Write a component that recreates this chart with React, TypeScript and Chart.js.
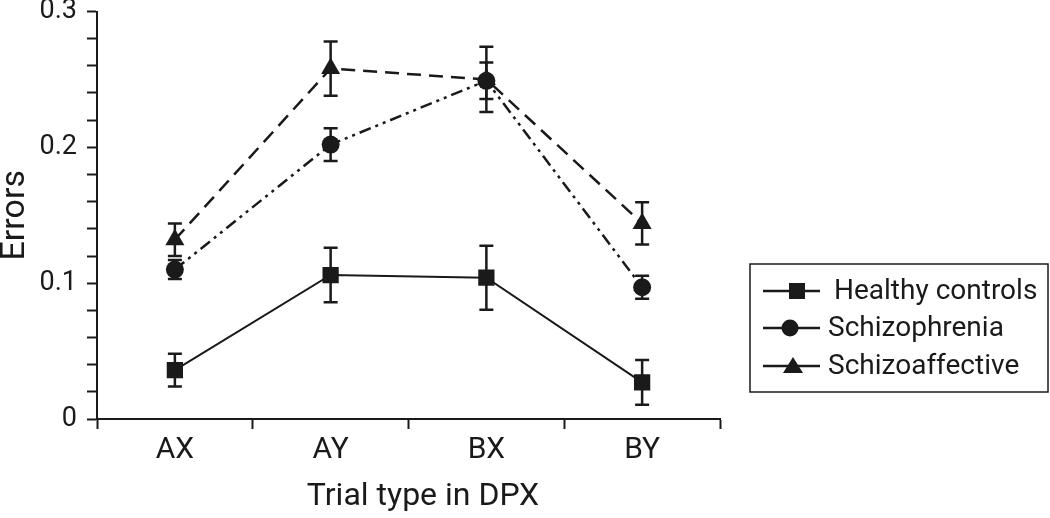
import React, { useEffect, useRef } from "react";
import { Chart, registerables } from "chart.js";

Chart.register(...registerables);

const categories = ["AX", "AY", "BX", "BY"];
const healthy = [0.036, 0.106, 0.104, 0.027];
const healthyErr = [0.012, 0.02, 0.0235, 0.0165];
const schizophrenia = [0.11, 0.202, 0.249, 0.097];
const schizophreniaErr = [0.007, 0.012, 0.0135, 0.0085];
const schizoaffective = [0.132, 0.258, 0.25, 0.144];
const schizoaffectiveErr = [0.012, 0.02, 0.024, 0.0155];
const seriesNames = ["Healthy controls", "Schizophrenia", "Schizoaffective"];
const xTitle = "Trial type in DPX";
const yTitle = "Errors";

const FONT = "Roboto, 'Liberation Sans', sans-serif";
const INK = "#1a1a1a";

const errorBars = {
  id: "errorBars",
  afterDatasetsDraw(chart: any) {
    const ctx = chart.ctx;
    const y = chart.scales.y;
    const errs = [healthyErr, schizophreniaErr, schizoaffectiveErr];
    ctx.save();
    ctx.strokeStyle = INK;
    ctx.lineWidth = 2.5;
    ctx.setLineDash([]);
    chart.data.datasets.forEach((ds: any, di: number) => {
      const meta = chart.getDatasetMeta(di);
      meta.data.forEach((pt: any, i: number) => {
        const v = ds.data[i];
        const e = errs[di][i];
        const top = y.getPixelForValue(v + e);
        const bot = y.getPixelForValue(v - e);
        const x = pt.x;
        ctx.beginPath();
        ctx.moveTo(x, top);
        ctx.lineTo(x, bot);
        ctx.moveTo(x - 7, top);
        ctx.lineTo(x + 7, top);
        ctx.moveTo(x - 7, bot);
        ctx.lineTo(x + 7, bot);
        ctx.stroke();
      });
    });
    ctx.restore();
  },
};

const xTitlePlugin = {
  id: "xTitlePlugin",
  afterDraw(chart: any) {
    const ctx = chart.ctx;
    ctx.save();
    ctx.fillStyle = INK;
    ctx.font = `32px ${FONT}`;
    ctx.textAlign = "center";
    ctx.textBaseline = "middle";
    ctx.fillText(xTitle, 423, 497);
    ctx.restore();
  },
};

const boxLegend = {
  id: "boxLegend",
  afterDraw(chart: any) {
    const ctx = chart.ctx;
    const left = 750;
    const top = 264;
    const w = 298;
    const h = 128;
    ctx.save();
    ctx.strokeStyle = INK;
    ctx.lineWidth = 1.5;
    ctx.setLineDash([]);
    ctx.strokeRect(left, top, w, h);
    const rows = [291, 328, 366];
    const mx = [797, 790, 793];
    chart.data.datasets.forEach((ds: any, i: number) => {
      const yy = rows[i];
      const cx = mx[i];
      ctx.strokeStyle = INK;
      ctx.lineWidth = 2.5;
      ctx.beginPath();
      ctx.moveTo(763, yy);
      ctx.lineTo(820, yy);
      ctx.stroke();
      ctx.fillStyle = INK;
      ctx.beginPath();
      if (ds.pointStyle === "rect") {
        ctx.rect(cx - 8, yy - 8, 16, 16);
      } else if (ds.pointStyle === "circle") {
        ctx.arc(cx, yy, 8.5, 0, Math.PI * 2);
      } else {
        ctx.moveTo(cx, yy - 9);
        ctx.lineTo(cx + 10, yy + 7);
        ctx.lineTo(cx - 10, yy + 7);
        ctx.closePath();
      }
      ctx.fill();
      ctx.font = `28px ${FONT}`;
      ctx.textBaseline = "middle";
      ctx.textAlign = "left";
      ctx.fillText(ds.label, i === 0 ? 834 : 828, yy + 1);
    });
    ctx.restore();
  },
};

export default function App() {
  const ref = useRef<HTMLCanvasElement | null>(null);
  useEffect(() => {
    document.body.style.margin = "0";
    const c = ref.current;
    if (!c) return;
    const mk = (label: string, data: number[], style: string, dash: number[], r: number, bw: number) => ({
      label,
      data,
      borderColor: INK,
      backgroundColor: INK,
      borderWidth: bw,
      borderDash: dash,
      pointStyle: style,
      pointRadius: r,
      pointBorderWidth: 0,
      pointBackgroundColor: INK,
      tension: 0,
      fill: false,
    });
    const chart = new Chart(c, {
      type: "line",
      data: {
        labels: categories,
        datasets: [
          mk(seriesNames[0], healthy, "rect", [], 11.5, 2),
          mk(seriesNames[1], schizophrenia, "circle", [12, 5, 3, 5, 3, 5], 9, 2.5),
          mk(seriesNames[2], schizoaffective, "triangle", [14, 8], 11, 2.5),
        ],
      },
      plugins: [errorBars, boxLegend, xTitlePlugin],
      options: {
        responsive: false,
        animation: false,
        layout: { padding: { top: 11, right: 330, left: 0, bottom: 0 } },
        plugins: { legend: { display: false }, tooltip: { enabled: false } },
        scales: {
          x: {
            type: "category",
            offset: true,
            afterFit: (s: any) => {
              s.height = 99;
              s.paddingLeft = 0;
              s.paddingRight = 0;
            },
            border: { color: INK, width: 2 },
            grid: { offset: true, drawOnChartArea: false, drawTicks: true, tickLength: 10, tickColor: INK, tickWidth: 2 },
            ticks: { color: INK, font: { family: FONT, size: 30 }, padding: 3 },
            title: { display: false, text: xTitle },
          },
          y: {
            min: 0,
            max: 0.3,
            afterFit: (s: any) => {
              s.width = 97;
              s.paddingTop = 0;
              s.paddingBottom = 0;
            },
            border: { color: INK, width: 2 },
            grid: { drawOnChartArea: false, drawTicks: true, tickLength: 10, tickColor: INK, tickWidth: 2 },
            ticks: {
              stepSize: 0.02,
              autoSkip: false,
              color: INK,
              padding: 10,
              font: { family: FONT, size: 27 },
              callback: (v: any) => {
                const n = Number(v) * 10;
                if (Math.abs(n - Math.round(n)) < 1e-6) {
                  const r = Math.round(n);
                  return r === 0 ? "0" : (r / 10).toFixed(1);
                }
                return "";
              },
            },
            title: { display: true, text: yTitle, color: INK, font: { family: FONT, size: 34 }, padding: { top: -5, bottom: 0 } },
          },
        },
      },
    });
    return () => chart.destroy();
  }, []);
  return (
    <div style={{ width: 1050, height: 518, background: "#fff" }}>
      <canvas ref={ref} width={1050} height={518} />
    </div>
  );
}
